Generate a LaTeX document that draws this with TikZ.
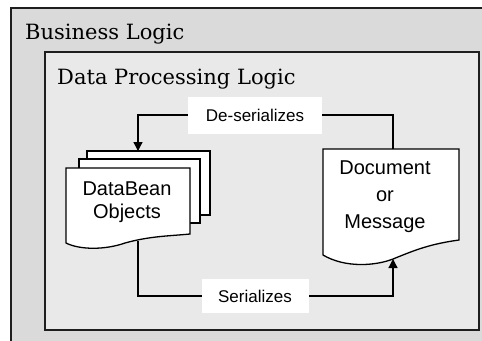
\documentclass[tikz,border=0pt]{standalone}
\usepackage{fontspec}
\setmainfont{DejaVu Serif}
\setsansfont{Liberation Sans}
\usetikzlibrary{arrows.meta}
\definecolor{outerbg}{RGB}{218,218,218}
\definecolor{innerbg}{RGB}{233,233,233}
\definecolor{edge}{RGB}{30,30,30}
\begin{document}
\begin{tikzpicture}[x=1bp,y=-1bp,
  layer/.style={draw=edge, line width=1.6bp},
  page/.style={draw=black, fill=white, line width=1.3bp},
  flow/.style={draw=black, line width=1.3bp},
  tip/.style={-{Triangle[width=9bp,length=9bp]}},
  tag/.style={fill=white, font=\sffamily\fontsize{17bp}{20bp}\selectfont, inner sep=0pt},
  shapetext/.style={font=\sffamily\fontsize{20bp}{23bp}\selectfont, align=center, inner sep=0pt},
  title/.style={font=\fontsize{21bp}{25bp}\selectfont, anchor=base west, inner sep=0pt}]
\useasboundingbox (0,0) rectangle (482,340);
\clip (0,0) rectangle (482,340);

% nested layers
\path[layer, fill=outerbg] (11,8) rectangle (500,360);
\node[title] (business) at (25,39) {Business Logic};
\path[layer, fill=innerbg] (45,52) rectangle (479,330);
\node[title] (dpl) at (57,84) {Data Processing Logic};

% stack of DataBean pages
\path[page] (87,151) rectangle (210,215);
\path[page] (79,159) rectangle (200,223);
\path[page] (66,168) -- (190,168) -- (190,234)
  .. controls (170,236) and (150,236) .. (125,243)
  .. controls (105,250) and (80,250) .. (66,243) -- cycle;
\node[shapetext] (bean) at (127,202) {DataBean\\Objects};

% document shape
\path[page] (323,149) -- (459,149) -- (459,240)
  .. controls (430,244) and (415,250) .. (393,259)
  .. controls (375,266) and (345,268) .. (323,255) -- cycle;
\node[shapetext, font=\sffamily\fontsize{20bp}{27bp}\selectfont] (doc) at (385,197) {Document\\or\\Message};

% connector end points
\coordinate (beanIn) at (138,151);
\coordinate (beanOut) at (138,241);
\coordinate (docOut) at (393,149);
\coordinate (docIn) at (393,259);
\coordinate (deserPos) at (255,115);
\coordinate (serPos) at (255,296);

\draw[flow, tip] (docOut) -- (docOut |- deserPos) -- (beanIn |- deserPos) -- (beanIn);
\draw[flow, tip] (beanOut) -- (beanOut |- serPos) -- (docIn |- serPos) -- (docIn);

\node[tag, minimum width=134bp, minimum height=37bp] (deser) at (deserPos) {De-serializes};
\node[tag, minimum width=107bp, minimum height=34bp] (ser) at (serPos) {Serializes};
\end{tikzpicture}
\end{document}
